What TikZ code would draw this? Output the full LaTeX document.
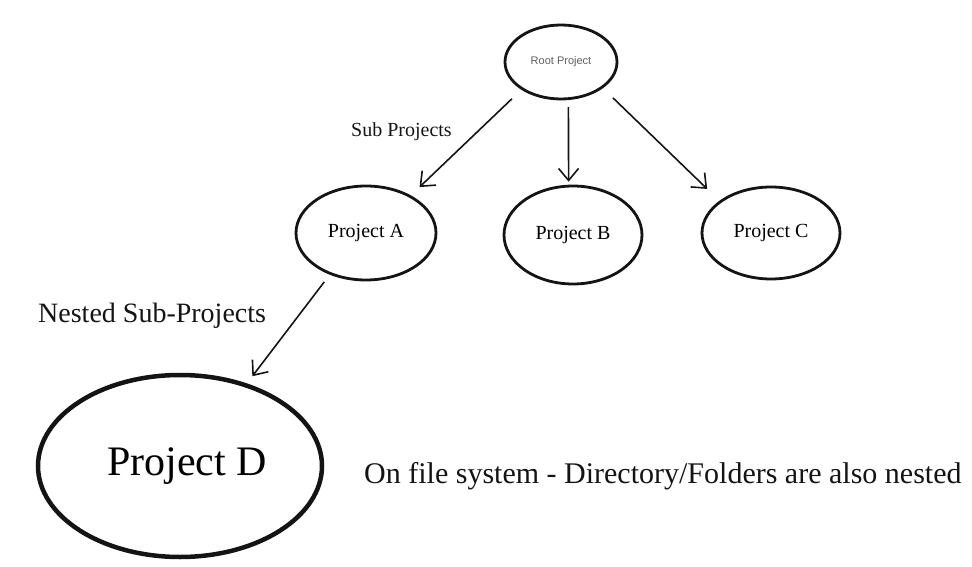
\documentclass[tikz,border=0pt]{standalone}
\usepackage{fontspec}
\setmainfont{Liberation Serif}
\newfontfamily\rootfont{Liberation Sans}
\usetikzlibrary{shapes.geometric,arrows.meta}
\definecolor{ink}{RGB}{20,20,20}
\definecolor{rootgray}{RGB}{95,95,95}
\tikzset{
  proj/.style={ellipse, draw=ink, line width=2.8pt, inner sep=0pt},
  arr/.style={draw=ink, line width=1.6pt, -{Straight Barb[length=12pt,width=20pt,line width=1.6pt]}},
  lbl/.style={anchor=base west, inner sep=0pt, text=ink}
}
\begin{document}
\begin{tikzpicture}[x=1pt,y=-1pt]
\useasboundingbox (0,0) rectangle (972,567);
\node[proj, minimum width=112pt, minimum height=74pt, font=\rootfont\fontsize{11}{13}\selectfont, text=rootgray] (root) at (561,62) {Root Project};
\node[proj, minimum width=140pt, minimum height=94pt, font=\fontsize{20}{24}\selectfont] (a) at (366,233) {Project A};
\node[proj, minimum width=138pt, minimum height=98pt, font=\fontsize{20}{24}\selectfont] (b) at (573,235) {Project B};
\node[proj, minimum width=138pt, minimum height=92pt, font=\fontsize{20}{24}\selectfont] (c) at (771,233) {Project C};
\node[proj, line width=4.5pt, minimum width=284pt, minimum height=182pt, font=\fontsize{42}{48}\selectfont] (d) at (180,466) {\hspace*{14pt}Project D};
\node[lbl, font=\fontsize{20}{24}\selectfont] (sub) at (351,137) {Sub Projects};
\node[lbl, font=\fontsize{28}{32}\selectfont] (nested) at (38,322) {Nested Sub-Projects};
\node[lbl, font=\fontsize{30}{36}\selectfont] (fs) at (364,483) {On file system - Directory/Folders are also nested};
\draw[arr, shorten <=13pt, shorten >=12pt] (root.-145) -- (a.40);
\draw[arr, shorten <=7pt, shorten >=3pt] (root.-79) -- (b.95);
\draw[arr, shorten <=14pt, shorten >=17pt] (root.-32) -- (c.148);
\draw[arr, shorten <=9pt, shorten >=9pt] (a.-131) -- (d.51);
\end{tikzpicture}
\end{document}
